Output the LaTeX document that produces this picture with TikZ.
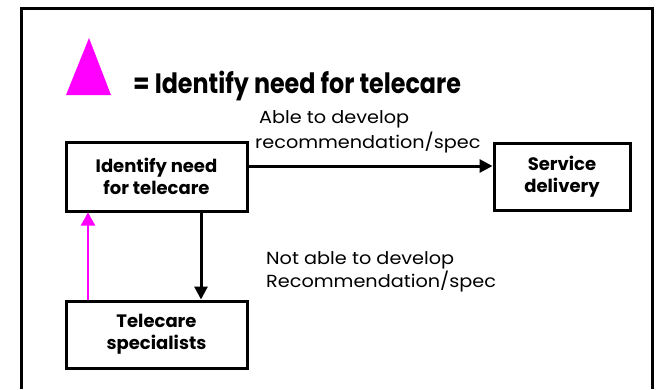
\documentclass[tikz,border=0pt]{standalone}
\usepackage{fontspec}
\setmainfont{Poppins}
\newfontfamily\titlefont[FakeStretch=0.85]{Poppins}
\newfontfamily\lblfont[FakeStretch=1.1]{Poppins}
\usetikzlibrary{arrows.meta}
\definecolor{mag}{RGB}{255,0,255}
\begin{document}
\begin{tikzpicture}[x=1pt,y=-1pt,
  box/.style={draw, line width=3pt, minimum width=181pt, minimum height=69pt, inner sep=0pt, align=center, font=\bfseries\fontsize{18}{22}\selectfont},
  lbl/.style={anchor=base west, inner sep=0pt, font=\lblfont\fontsize{17.5}{20}\selectfont},
  arr/.style={line width=3pt, -{Triangle[length=13pt,width=13pt]}},
  marr/.style={mag, line width=2.2pt, -{Triangle[length=13pt,width=14pt]}}]
\useasboundingbox (0,0) rectangle (660,389);
\fill[white] (0,0) rectangle (660,389);
\draw[line width=3pt] (21,389) -- (21,8) -- (652,8) -- (652,389);
\fill[mag] (66,95) -- (89,38) -- (111,95) -- cycle;
\node[anchor=base west, inner sep=0pt, font=\titlefont\bfseries\fontsize{28}{34}\selectfont] (title) at (133,93) {= Identify need for telecare};
\node[box] (need) at (156.5,176.5) {Identify need\\for telecare};
\node[box, minimum height=67pt] (spec) at (156.5,334.5) {Telecare\\specialists};
\node[box, minimum width=136pt, minimum height=67pt] (svc) at (562,176.5) {Service\\delivery};
\node[lbl] (a1) at (259,123) {Able to develop};
\node[lbl] (a2) at (255,148) {recommendation/spec};
\node[lbl] (n1) at (266,264) {Not able to develop};
\node[lbl] (n2) at (266,287) {Recommendation/spec};
\draw[arr] ([yshift=10.5pt]need.east) -- ([yshift=10.5pt]need.east -| svc.west);
\draw[arr] ([xshift=44.5pt]need.south) -- ([xshift=44.5pt]need.south |- spec.north);
\draw[marr] ([xshift=-68.5pt]spec.north) -- ([xshift=-68.5pt]spec.north |- need.south);
\end{tikzpicture}
\end{document}
